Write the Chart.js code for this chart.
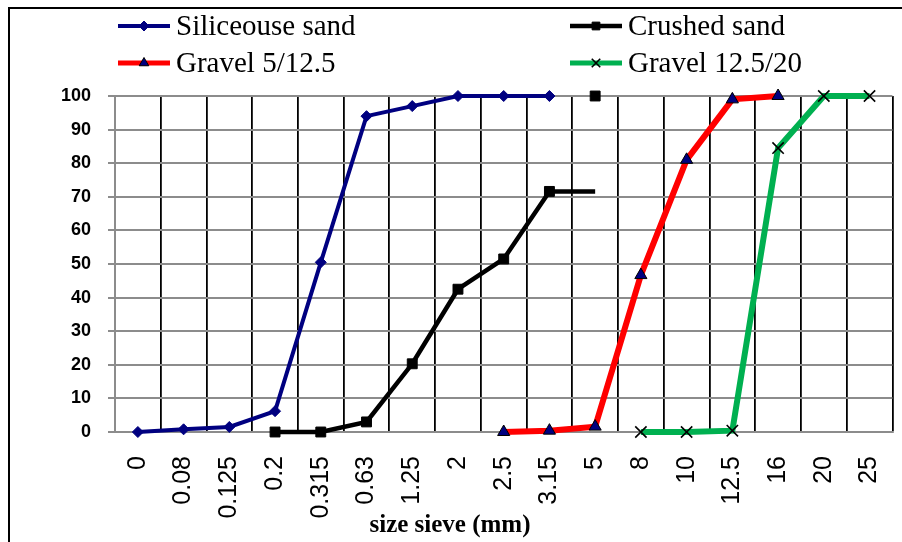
<!DOCTYPE html>
<html>
<head>
<meta charset="utf-8">
<script src="https://cdn.jsdelivr.net/npm/chart.js@4/dist/chart.umd.min.js"></script>
<style>
  html, body { margin: 0; padding: 0; background: #fff; }
  canvas { display: block; }
</style>
</head>
<body>
<canvas id="courbe" width="902" height="542"></canvas>
<script>
// sieve sizes (mm) used as categories
const sieves = ["0", "0.08", "0.125", "0.2", "0.315", "0.63", "1.25", "2", "2.5", "3.15", "5", "8", "10", "12.5", "16", "20", "25"];

// % passing for each material
const siliceousSand = [0, 0.8, 1.5, 6.2, 50.5, 94, 97, 100, 100, 100, null, null, null, null, null, null, null];
const crushedSand   = [null, null, null, 0, 0, 3, 20.3, 42.5, 51.5, 71.6, 71.6, null, null, null, null, null, null];
const crushedSandTop = [null, null, null, null, null, null, null, null, null, null, 100, null, null, null, null, null, null];
const gravel5_12    = [null, null, null, null, null, null, null, null, 0, 0.4, 1.6, 46.7, 81, 99, 100, null, null];
const gravel12_20   = [null, null, null, null, null, null, null, null, null, null, null, 0, 0, 0.4, 84.5, 100, 100];

const seriesNames = ["Siliceouse sand", "Crushed sand", "Gravel 5/12.5", "Gravel 12.5/20"];
const axisTitle = "size sieve (mm)";

// legende en 2 colonnes, dessinee a la main
const legendPlugin = {
  id: 'legende',
  beforeDraw(chart) {
    const ctx = chart.ctx;
    ctx.save();
    ctx.fillStyle = '#fff';
    ctx.fillRect(0, 0, chart.width, chart.height);
    ctx.strokeStyle = '#000';
    ctx.lineWidth = 2;
    ctx.strokeRect(9, 8, 1200, 1200);
    ctx.restore();
  },
  afterDraw(chart) {
    const ctx = chart.ctx;
    const cols = [118, 570];
    const rows = [26, 63];
    const order = [0, 1, 2, 3]; // Siliceouse, Crushed / Gravel, Gravel
    ctx.save();
    order.forEach((dsIndex, i) => {
      const ds = chart.data.datasets[dsIndex];
      const x = cols[i % 2];
      const y = rows[Math.floor(i / 2)];
      ctx.strokeStyle = ds.borderColor;
      ctx.lineWidth = ds.legendLine;
      ctx.beginPath();
      ctx.moveTo(x, y);
      ctx.lineTo(x + 52, y);
      ctx.stroke();
      ctx.fillStyle = ds.pointBackgroundColor;
      ctx.strokeStyle = ds.pointBorderColor;
      ctx.lineWidth = ds.pointBorderWidth;
      Chart.helpers.drawPoint(ctx, {
        pointStyle: ds.pointStyle,
        radius: ds.legendRadius,
        borderWidth: ds.pointBorderWidth,
        rotation: 0
      }, x + 26, y);
      ctx.fillStyle = '#000';
      ctx.font = '29px "Liberation Serif", "Times New Roman", serif';
      ctx.textBaseline = 'middle';
      ctx.textAlign = 'left';
      ctx.fillText(ds.label, x + 58, y + 1);
    });
    // titre de l'axe x
    ctx.font = 'bold 25px "Liberation Serif", "Times New Roman", serif';
    ctx.textAlign = 'center';
    ctx.textBaseline = 'middle';
    ctx.fillText(axisTitle, 450, 526);
    ctx.restore();
  }
};

const ctx = document.getElementById('courbe').getContext('2d');
new Chart(ctx, {
  type: 'line',
  data: {
    labels: sieves,
    datasets: [
      {
        label: seriesNames[0],
        data: siliceousSand,
        borderColor: '#000080',
        borderWidth: 4,
        legendLine: 4,
        pointStyle: 'rectRot',
        pointRadius: 5.5,
        legendRadius: 5,
        pointBackgroundColor: '#000080',
        pointBorderColor: '#000080',
        pointBorderWidth: 1
      },
      {
        label: seriesNames[1],
        data: crushedSand,
        borderColor: '#000000',
        borderWidth: 4.5,
        legendLine: 4.5,
        pointStyle: 'rect',
        pointRadius: c => (c.dataIndex === 10 ? 0 : 7),
        legendRadius: 5.5,
        pointBackgroundColor: '#000000',
        pointBorderColor: '#000000',
        pointBorderWidth: 1
      },
      {
        label: seriesNames[2],
        data: gravel5_12,
        borderColor: '#ff0000',
        borderWidth: 6,
        legendLine: 5,
        pointStyle: 'triangle',
        pointRadius: 7,
        legendRadius: 5.5,
        pointBackgroundColor: '#000080',
        pointBorderColor: '#000000',
        pointBorderWidth: 1
      },
      {
        label: seriesNames[3],
        data: gravel12_20,
        borderColor: '#00b050',
        borderWidth: 6,
        legendLine: 5,
        pointStyle: 'crossRot',
        pointRadius: 8,
        legendRadius: 6,
        pointBackgroundColor: '#000000',
        pointBorderColor: '#000000',
        pointBorderWidth: 1.6
      },
      {
        label: seriesNames[1],
        data: crushedSandTop,
        showLine: false,
        borderColor: '#000000',
        pointStyle: 'rect',
        pointRadius: 7,
        pointBackgroundColor: '#000000',
        pointBorderColor: '#000000',
        pointBorderWidth: 1
      }
    ]
  },
  options: {
    responsive: false,
    animation: false,
    layout: { padding: { top: 96, right: 7, bottom: 0, left: 0 } },
    elements: { line: { tension: 0 } },
    datasets: { line: { clip: false } },
    plugins: {
      legend: { display: false },
      tooltip: { enabled: false }
    },
    scales: {
      x: {
        offset: true,
        afterFit: s => { s.height = 110; s.paddingLeft = 0; s.paddingRight = 0; },
        grid: {
          offset: true,
          drawTicks: false,
          color: c => (c.index === 0 ? '#8c8c8c' : '#000000'),
          lineWidth: 1.8
        },
        border: { color: '#8c8c8c', width: 2 },
        ticks: {
          autoSkip: false,
          minRotation: 90,
          maxRotation: 90,
          padding: 24,
          color: '#000',
          font: { family: '"Liberation Sans", Arial, sans-serif', size: 25 }
        }
      },
      y: {
        min: 0,
        max: 100,
        afterFit: s => { s.width = 115; s.paddingTop = 0; s.paddingBottom = 0; },
        grid: {
          color: '#8c8c8c',
          lineWidth: 2,
          tickLength: 7
        },
        border: { color: '#8c8c8c', width: 2 },
        ticks: {
          stepSize: 10,
          padding: 17,
          color: '#000',
          font: { family: '"Liberation Sans", Arial, sans-serif', size: 18, weight: 'bold' }
        }
      }
    }
  },
  plugins: [legendPlugin]
});
</script>
</body>
</html>
